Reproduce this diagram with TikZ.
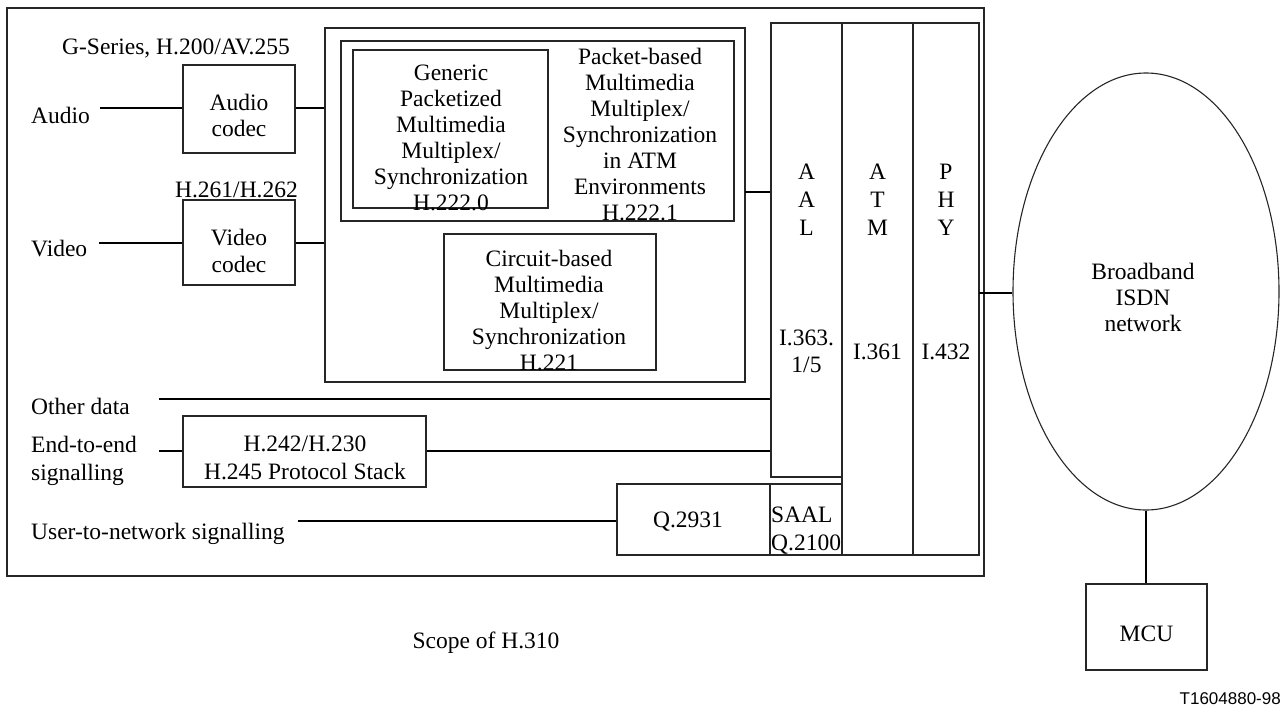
\documentclass[tikz,border=0pt]{standalone}
\usepackage{fontspec}
\setmainfont{Liberation Serif}
\newfontfamily\idfont{Liberation Sans}
\usetikzlibrary{fit,shapes.geometric}
\begin{document}
\begin{tikzpicture}[x=1pt,y=-1pt,
  box/.style={draw=black!85, line width=1.1pt, inner sep=0pt},
  conn/.style={draw=black, line width=2.2pt},
  thinconn/.style={draw=black, line width=1.4pt},
  txt/.style={inner sep=0pt, font=\fontsize{23.5}{26}\selectfont, align=center},
  txtb/.style={inner sep=0pt, font=\fontsize{23.5}{26}\selectfont, anchor=base},
]
\useasboundingbox (0,0) rectangle (1282,707);

% boxes
\node[box, fit={(7,8) (984,576)}] (outer) {};
\node[box, fit={(325,28) (745,382)}] (mux) {};
\node[box, fit={(341,41) (734,221)}] (packet) {};
\node[box, fit={(353,50) (548,208)}] (generic) {};
\node[box, fit={(444,234) (656,370)}] (circuit) {};
\node[box, fit={(183,65) (295,153)}] (acodec) {};
\node[box, fit={(183,200) (295,285)}] (vcodec) {};
\node[box, fit={(771,23) (842,477)}] (aal) {};
\node[box, fit={(842,23) (913,555)}] (atm) {};
\node[box, fit={(913,23) (979,555)}] (phy) {};
\node[box, fit={(183,416) (426,487)}] (stack) {};
\node[box, fit={(617,484) (770,555)}] (q2931) {};
\node[box, fit={(770,484) (842,555)}] (saal) {};
\node[box, fit={(1086,584) (1207,670)}] (mcu) {};
\node[box, ellipse, minimum width=266pt, minimum height=437pt] (bisdn) at (1146,291.5) {};

% texts
\node[txtb] (tgser) at (176,54) {G-Series, H.200/AV.255};
\node[txtb] (th261) at (236.5,197) {H.261/H.262};
\node[txtb, anchor=base west] (taudio) at (31,123) {Audio};
\node[txtb, anchor=base west] (tvideo) at (31,256) {Video};
\node[txt] (tacodec) at (239,115) {Audio\\codec};
\node[txt, font=\fontsize{23.5}{27.5}\selectfont] (tvcodec) at (239,251) {Video\\codec};
\node[txt] (tgeneric) at (451,137.5) {Generic\\Packetized\\Multimedia\\Multiplex/\\Synchronization\\H.222.0};
\node[txt] (tpacket) at (640,135) {Packet-based\\Multimedia\\Multiplex/\\Synchronization\\in ATM\\Environments\\H.222.1};
\node[txt] (tcircuit) at (549,311) {Circuit-based\\Multimedia\\Multiplex/\\Synchronization\\H.221};
\node[txt, font=\fontsize{23.5}{28}\selectfont] (taal) at (806.5,200) {A\\A\\L};
\node[txt, font=\fontsize{23.5}{28}\selectfont] (tatm) at (877.5,200) {A\\T\\M};
\node[txt, font=\fontsize{23.5}{28}\selectfont] (tphy) at (946,200) {P\\H\\Y};
\node[txt, font=\fontsize{23.5}{27}\selectfont] (ti363) at (806.5,351.5) {I.363.\\1/5};
\node[txtb] (ti361) at (877.5,359) {I.361};
\node[txtb] (ti432) at (946,359) {I.432};
\node[txtb, anchor=base west] (tother) at (31,414) {Other data};
\node[txt, align=left, anchor=west, font=\fontsize{23.5}{28}\selectfont] (te2e) at (31,460.5) {End-to-end\\signalling};
\node[txt, font=\fontsize{23.5}{28}\selectfont] (tstack) at (305,458) {H.242/H.230\\H.245 Protocol Stack};
\node[txtb, anchor=base west] (tuser) at (31,539) {User-to-network signalling};
\node[txtb] (tq2931) at (688,527) {Q.2931};
\node[txt, align=left, anchor=west, font=\fontsize{23.5}{28}\selectfont] (tsaal) at (771,531) {SAAL\\Q.2100};
\node[txt] (tbisdn) at (1143,297.5) {Broadband\\ISDN\\network};
\node[txtb] (tmcu) at (1146.5,641) {MCU};
\node[txtb] (tscope) at (486,648) {Scope of H.310};
\node[inner sep=0pt, anchor=base east, font=\idfont\fontsize{17}{20}\selectfont] (tid) at (1281,704) {T1604880-98};

% free ends of connectors
\coordinate (ain) at (100,108);
\coordinate (vin) at (99,243);
\coordinate (muxout) at (745,192);
\coordinate (oin) at (159,399);
\coordinate (ein) at (159,451);
\coordinate (uin) at (298,521);
\coordinate (phyout) at (979,293);

% connectors
\draw[conn] (ain) -- (acodec.west |- ain);
\draw[conn] (acodec.east |- ain) -- (mux.west |- ain);
\draw[conn] (vin) -- (vcodec.west |- vin);
\draw[conn] (vcodec.east |- vin) -- (mux.west |- vin);
\draw[conn] (muxout) -- (aal.west |- muxout);
\draw[conn] (oin) -- (aal.west |- oin);
\draw[conn] (ein) -- (stack.west |- ein);
\draw[conn] (stack.east |- ein) -- (aal.west |- ein);
\draw[conn] (uin) -- (q2931.west |- uin);
\draw[thinconn] (phyout) -- (bisdn.west |- phyout);
\draw[conn] (bisdn.south) -- (bisdn.south |- mcu.north);
\end{tikzpicture}
\end{document}
